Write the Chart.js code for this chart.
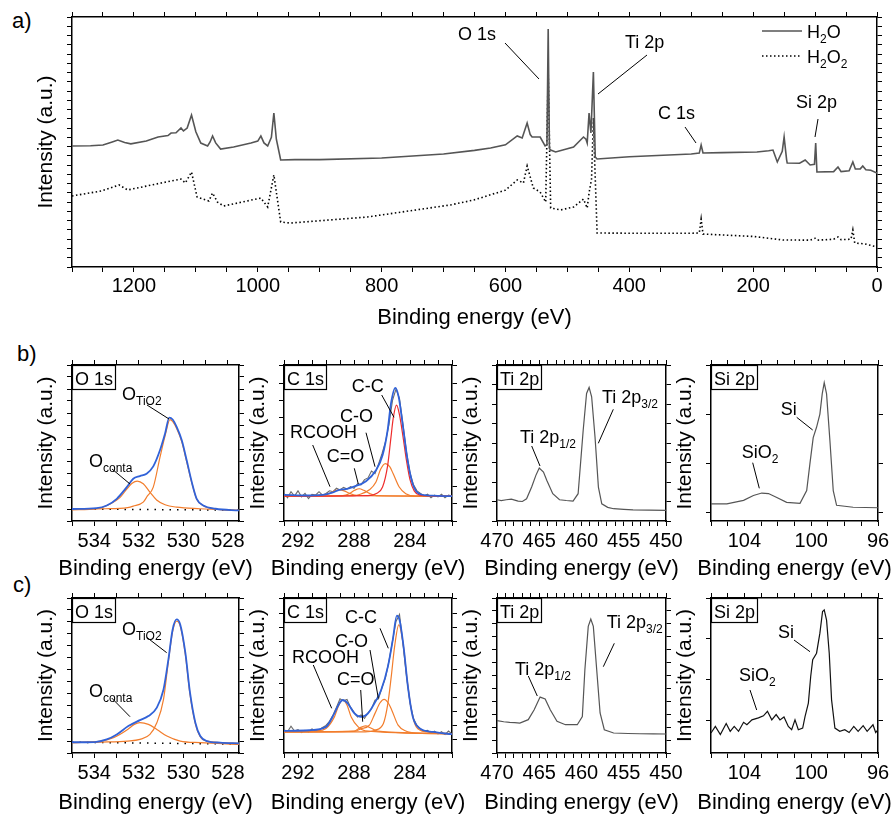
<!DOCTYPE html>
<html><head><meta charset="utf-8">
<script src="https://cdn.jsdelivr.net/npm/chart.js@4.4.1/dist/chart.umd.min.js"></script>
<style>
html,body{margin:0;padding:0;background:#fff;}
#wrap{position:relative;width:895px;height:819px;overflow:hidden;background:#fff;}
#wrap canvas{position:absolute;}
.lbl{position:absolute;font-family:"Liberation Sans",Arial,sans-serif;font-size:22px;color:#000;line-height:22px;}
</style></head><body><div id="wrap">
<div class="lbl" style="left:12px;top:10px">a)</div>
<div class="lbl" style="left:17px;top:343px">b)</div>
<div class="lbl" style="left:13px;top:574px">c)</div>
</div>
<script>
const FONT = '"Liberation Sans", Arial, Helvetica, sans-serif';

// ---------------- (a) survey spectra ----------------
const surveyE_H2O = [1300,1270,1250,1235,1226,1215,1205,1180,1161,1145,1140,1132,1124,1120,1114,1107,1100,1092,1081,1077,1073,1068,1060,1039,1011,1000,995,990,984,978,974,970,963,940,900,800,700,650,624,600,581,573,565,560,557,544,536,533,531,529,527,519,490,474,470,468,465,462,458,455,452,400,300,287,284,281,250,194,175,168,161,153,150,146,145,125,116,108,101,99,97,70,63,58,45,39,35,27,23,18,10,0];
const surveyI_H2O = [13.07,13.1,13.17,13.5,13.71,13.45,13.3,13.6,14.04,14.2,14.47,14.5,15.01,14.69,15.0,16.41,14.6,13.39,13.07,13.5,14.15,13.4,12.74,12.96,13.39,13.6,14.15,13.4,13.07,14.0,16.63,13.8,11.56,11.6,11.6,11.77,12.2,12.6,12.85,13.2,14.15,13.93,15.55,14.3,14.04,14.04,13.07,13.2,25.7,12.8,12.63,12.42,12.96,14.04,13.8,13.39,16.63,14.47,21.06,11.88,11.66,11.9,12.2,12.3,13.17,12.31,12.35,12.42,12.55,12.63,11.34,12.5,14.04,11.6,11.23,11.2,11.56,11.02,11.1,13.39,10.26,10.3,10.8,10.3,10.4,11.34,10.58,10.6,10.9,10.5,10.45,10.15];
const surveyE_H2O2 = [1300,1253,1224,1210,1156,1124,1117,1107,1098,1079,1073,1065,1055,995,984,974,963,947,823,689,651,600,581,571,565,555,544,535,531,527,511,490,474,468,465,461,458,456,452,400,300,287,284,281,200,152,108,100,96,70,63,58,42,39,36,20,0];
const surveyI_H2O2 = [7.67,8.21,8.86,8.32,9.07,9.5,9.07,10.26,7.56,7.13,7.99,7.0,6.59,7.45,6.48,9.94,4.86,4.75,5.4,6.7,7.24,8.3,9.4,9.07,10.91,8.53,8.1,7.02,21.06,6.37,6.16,6.48,7.34,6.37,7.99,9.5,16.09,11.56,3.67,3.65,3.65,3.67,5.18,3.56,3.3,2.92,2.9,3.1,2.9,3.0,3.24,2.95,3.0,4.0,2.59,2.5,2.16];
const surveyTickLabels = [1200,1000,800,600,400,200,0];

// ---------------- tick labels of the detail panels ----------------
const o1sTickLabels = [534,532,530,528];
const c1sTickLabels = [292,288,284];
const ti2pTickLabels = [470,465,460,455,450];
const si2pTickLabels = [104,100,96];

// ---------------- (b) O 1s ----------------
const o1sB_envE = [535.0,533.9,533.44,532.99,532.54,532.25,531.95,531.65,531.35,531.05,530.82,530.63,530.48,530.3,530.07,529.85,529.62,529.4,529.1,528.55,527.5];
const o1sB_env  = [0.0,0.07,0.29,0.85,1.82,2.52,2.74,2.94,3.55,4.89,6.29,7.62,7.46,6.84,5.73,4.06,2.24,0.85,0.29,0.02,-0.12];
const o1sB_tio2E = [535.0,533.5,532.5,532.25,531.8,531.62,531.35,531.05,530.82,530.6,530.48,530.3,530.07,529.85,529.62,529.4,529.1,528.55,527.5];
const o1sB_tio2  = [0.0,0.02,0.12,0.24,0.57,1.07,1.82,4.3,6.1,7.45,7.3,6.7,5.6,3.95,2.18,0.82,0.27,0.0,-0.12];
const o1sB_contaE = [535.0,533.89,533.3,532.85,532.5,532.3,532.07,531.8,531.5,531.2,530.82,530.3,529.25,527.5];
const o1sB_conta  = [-0.07,0.03,0.4,0.95,1.75,2.15,2.33,2.1,1.4,0.75,0.35,0.15,0.02,-0.12];
const o1sB_bgE = [535.0,527.5];
const o1sB_bg  = [0.0,-0.1];

// ---------------- (b) C 1s ----------------
const c1sRawE = [293,292.75,292.5,292.25,292,291.75,291.5,291.25,291,290.75,290.5,290.25,290,289.75,289.5,289.25,289,288.75,288.5,288.25,288,287.75,287.5,287.25,287,286.75,286.5,286.25,286,285.75,285.5,285.25,285,284.75,284.5,284.25,284,283.75,283.5,283.25,283,282.75,282.5,282.25,282,281.75,281.5,281.25,281];
const c1sB_raw = [0.6,0.35,0.7,0.45,0.75,0.4,0.6,0.3,0.55,0.5,0.7,0.5,0.6,0.75,0.7,0.9,0.8,0.95,0.85,1.0,0.9,1.15,1.1,1.4,1.5,1.9,1.75,2.3,2.9,3.6,4.6,6.0,6.65,6.1,4.6,3.0,1.8,1.1,0.75,0.6,0.45,0.55,0.35,0.5,0.4,0.55,0.35,0.5,0.45];
const c1sB_envE = [293,291.2,290.0,289.5,289.05,288.6,288.1,287.14,286.43,285.96,285.6,285.36,285.05,284.81,284.53,284.17,283.81,283.34,282.39,281];
const c1sB_env  = [0.52,0.48,0.54,0.66,0.81,0.85,0.97,1.31,1.94,2.81,4.26,5.81,6.72,6.2,4.65,2.52,1.16,0.58,0.47,0.44];
const c1sB_ccE = [293,287.0,286.4,285.96,285.6,285.36,285.2,284.96,284.75,284.5,284.25,284.0,283.7,283.3,282.5,281];
const c1sB_cc  = [0.44,0.47,0.6,0.97,2.2,3.85,4.95,5.72,5.15,3.9,2.5,1.4,0.75,0.5,0.45,0.44];
const c1sB_coE = [293,288.0,287.6,286.9,286.43,286.1,285.76,285.45,285.2,284.77,284.3,283.6,281];
const c1sB_co  = [0.45,0.47,0.54,0.81,1.26,2.0,2.33,2.15,1.74,0.97,0.58,0.44,0.44];
const c1sB_c2oE = [293,288.8,288.3,287.95,287.62,287.3,286.9,286.4,281];
const c1sB_c2o  = [0.45,0.47,0.6,0.78,0.87,0.78,0.6,0.47,0.44];
const c1sB_coohE = [293,290.3,289.7,289.35,289.05,288.7,288.3,287.8,281];
const c1sB_cooh  = [0.45,0.5,0.62,0.76,0.81,0.75,0.6,0.48,0.44];

// ---------------- (b) Ti 2p ----------------
const ti2pB_E = [470,469.5,468.9,468.3,467.5,467.0,466.5,465.9,465.4,465.0,464.5,464.1,463.4,462.6,461.8,461.0,460.4,459.8,459.4,459.1,458.8,458.4,458.0,457.6,456.9,456.2,455.0,453.9,452.0,450];
const ti2pB_I = [1.09,1.05,1.09,1.12,1.02,1.0,1.14,1.74,2.34,2.72,2.51,2.08,1.4,1.09,1.05,1.02,1.4,4.65,6.54,6.85,6.37,4.31,1.74,0.88,0.7,0.63,0.6,0.57,0.56,0.54];

// ---------------- (b) Si 2p ----------------
const si2pB_E = [106,105.05,104.05,103.46,102.96,102.56,102.06,101.47,100.67,100.27,100.08,99.88,99.68,99.48,99.34,99.22,99.08,98.88,98.68,98.48,97.49,96];
const si2pB_I = [0.17,0.17,0.24,0.34,0.39,0.38,0.3,0.2,0.18,0.44,0.98,1.52,1.73,2.0,2.41,2.64,2.41,1.46,0.44,0.14,0.1,0.09];

// ---------------- (c) O 1s ----------------
const o1sC_envE = [535.0,533.98,533.44,532.99,532.47,531.95,531.57,531.19,530.89,530.67,530.48,530.3,530.14,529.91,529.7,529.46,529.24,528.94,528.35,527.5];
const o1sC_env  = [-0.1,-0.08,0.14,0.56,1.26,1.76,2.1,2.8,4.33,6.85,9.36,10.2,9.78,7.41,4.06,1.54,0.42,0.0,-0.13,-0.19];
const o1sC_tio2E = [535.0,533.7,532.5,531.95,531.5,531.19,530.89,530.67,530.48,530.3,530.14,529.91,529.7,529.46,529.24,528.94,527.5];
const o1sC_tio2  = [-0.13,-0.08,0.0,0.14,0.56,1.54,3.5,6.71,9.2,10.05,9.65,7.27,3.92,1.46,0.36,0.0,-0.19];
const o1sC_contaE = [535.0,533.7,533.14,532.5,532.2,531.95,531.57,531.19,530.74,530.14,529.24,527.5];
const o1sC_conta  = [-0.13,0.0,0.28,0.98,1.4,1.54,1.4,0.98,0.42,0.0,-0.13,-0.27];
const o1sC_bgE = [535.0,527.5];
const o1sC_bg  = [-0.1,-0.25];

// ---------------- (c) C 1s ----------------
const c1sC_raw = [0.7,0.55,0.95,0.6,0.7,0.5,0.65,0.55,0.75,0.6,0.7,0.85,1.0,1.3,1.75,2.3,2.9,2.75,2.85,2.3,1.95,1.6,1.75,1.5,1.9,2.2,2.8,2.9,3.7,4.4,5.6,7.0,8.4,8.9,6.8,4.5,2.6,1.5,1.0,0.75,0.6,0.65,0.45,0.6,0.4,0.55,0.35,0.6,0.4];
const c1sC_envE = [293,291.2,290.0,289.4,289.05,288.8,288.45,287.97,287.49,287.0,286.54,286.06,285.58,285.23,284.94,284.75,284.46,284.15,283.8,283.3,282.37,281];
const c1sC_env  = [0.61,0.66,0.9,1.86,2.57,2.81,2.57,1.86,1.61,1.86,2.57,3.52,5.19,7.09,8.81,8.52,6.61,3.76,1.61,0.79,0.54,0.38];
const c1sC_ccE = [293,287.2,286.5,285.9,285.58,285.34,285.1,284.8,284.5,284.2,283.9,283.55,282.8,281];
const c1sC_cc  = [0.55,0.54,0.66,1.14,2.57,4.47,6.61,8.16,6.86,4.24,2.09,0.9,0.54,0.4];
const c1sC_coE = [293,288,287.5,286.9,286.5,286.15,285.85,285.55,285.3,284.85,284.3,283.5,281];
const c1sC_co  = [0.55,0.58,0.76,1.02,1.86,2.6,2.86,2.6,2.09,1.02,0.6,0.45,0.4];
const c1sC_coohE = [293,290.7,290.0,289.4,289.1,288.8,288.5,288.2,287.7,287.2,281];
const c1sC_cooh  = [0.55,0.62,0.79,1.61,2.4,2.81,2.45,1.61,0.9,0.62,0.42];
const c1sC_c2oE = [293,288.0,287.6,287.18,286.8,286.3,281];
const c1sC_c2o  = [0.55,0.6,0.82,0.97,0.82,0.6,0.42];

// ---------------- (c) Ti 2p ----------------
const ti2pC_E = [470,469.2,468.5,467.9,467.3,466.3,465.6,464.9,464.3,463.7,462.9,461.9,461.2,460.5,459.9,459.6,459.2,458.9,458.6,458.2,457.8,457.3,456.2,454.5,453.1,451.5,450];
const ti2pC_I = [2.5,2.42,2.37,2.35,2.32,2.58,3.35,4.33,4.18,3.35,2.45,2.19,2.2,2.19,2.83,6.45,9.8,10.37,9.8,6.45,3.1,1.8,1.55,1.51,1.49,1.48,1.47];

// ---------------- (c) Si 2p ----------------
const si2pC_E = [106,105.74,105.44,105.09,104.85,104.61,104.35,104.05,103.85,103.55,103.16,102.86,102.62,102.36,102.1,101.87,101.63,101.37,101.17,100.97,100.77,100.51,100.37,100.17,100.03,99.91,99.68,99.48,99.32,99.22,99.08,98.92,98.78,98.58,98.29,97.99,97.73,97.45,97.19,96.89,96.65,96.3,96.14,96];
const si2pC_I = [-0.3,-0.14,-0.34,-0.07,-0.26,-0.14,-0.26,-0.04,-0.1,0.02,0.07,0.12,0.23,0.02,0.15,0.02,0.09,-0.14,-0.22,0.02,-0.22,-0.18,0.1,0.43,1.08,1.49,1.65,2.14,2.67,2.71,2.46,1.65,0.51,-0.18,-0.26,-0.22,-0.29,-0.14,-0.26,-0.12,-0.26,-0.1,-0.29,-0.22];

// ================= drawing helpers =================
const BLUE = '#3162d8', ORANGE = '#f27d2c', RED = '#ee2c2c', GREY = '#6a6a6a', DARK = '#555555';
const seq = (a, b, s) => { const r = []; for (let v = a; v <= b + 1e-9; v += s) r.push(Math.round(v * 1000) / 1000); return r; };
const pts = (E, V) => E.map((e, i) => ({x: e, y: V[i]}));
function ds(E, V, color, width, extra) {
  return Object.assign({data: pts(E, V), borderColor: color, borderWidth: width, pointRadius: 0, fill: false, tension: 0}, extra || {});
}
const smooth = {cubicInterpolationMode: 'monotone'};

function annotPlugin(items, gapX) {
  return {
    id: 'annot',
    afterDraw(chart) {
      const ctx = chart.ctx, a = chart.chartArea;
      ctx.save();
      // x-axis title (drawn without width compression)
      ctx.font = '22px ' + FONT;
      ctx.fillStyle = '#000'; ctx.textAlign = 'center'; ctx.textBaseline = 'middle';
      ctx.fillText('Binding energy (eV)', (a.left + a.right) / 2, a.bottom + gapX);
      for (const it of items) {
        if (it.type === 'line') {
          ctx.beginPath();
          ctx.strokeStyle = it.color || '#000';
          ctx.lineWidth = it.width || 1;
          ctx.setLineDash(it.dash || []);
          ctx.moveTo(a.left + it.x1, a.top + it.y1);
          ctx.lineTo(a.left + it.x2, a.top + it.y2);
          ctx.stroke();
          ctx.setLineDash([]);
        } else if (it.type === 'text') {
          let x = a.left + it.x; const y = a.top + it.y;
          ctx.textBaseline = 'alphabetic'; ctx.textAlign = 'left'; ctx.fillStyle = '#000';
          for (const [s, kind] of it.parts) {
            const sub = kind === 'sub';
            ctx.font = (sub ? (it.sub || 12) : (it.size || 18)) + 'px ' + FONT;
            ctx.fillText(s, x, y + (sub ? (it.subDy || 5) : 0));
            x += ctx.measureText(s).width;
          }
        } else if (it.type === 'tag') {
          ctx.font = '18px ' + FONT;
          const tw = ctx.measureText(it.text).width;
          const bw = Math.round(tw + 5), bh = 24;
          ctx.fillStyle = '#fff';
          ctx.fillRect(a.left, a.top, bw, bh);
          ctx.strokeStyle = '#000'; ctx.lineWidth = 1.2;
          ctx.strokeRect(a.left + 0.5, a.top + 0.5, bw, bh);
          ctx.fillStyle = '#000'; ctx.textBaseline = 'alphabetic'; ctx.textAlign = 'left';
          ctx.fillText(it.text, a.left + 3, a.top + 19.5);
        }
      }
      ctx.restore();
    }
  };
}

const wrap = document.getElementById('wrap');
function makePanel(o) {
  const mL = 40, mR = 22, mT = 10, mB = 66;
  const b = o.box;
  const W = b.w + mL + mR, H = b.h + mT + mB;
  const cv = document.createElement('canvas');
  cv.width = W; cv.height = H;
  cv.style.left = (b.l - mL) + 'px'; cv.style.top = (b.t - mT) + 'px';
  cv.style.width = W + 'px'; cv.style.height = H + 'px';
  wrap.appendChild(cv);
  const grid = () => ({display: true, drawOnChartArea: false, drawTicks: true, tickLength: 5, tickColor: '#000', tickWidth: 1, color: '#000'});
  const border = () => ({display: true, color: '#000', width: 1.5});
  const xt = s => { s.ticks = o.xTicks.map(v => ({value: v})); };
  const yt = s => { s.ticks = o.yTicks.map(v => ({value: v})); };
  new Chart(cv.getContext('2d'), {
    type: 'line',
    data: {datasets: o.datasets},
    options: {
      responsive: false, animation: false, devicePixelRatio: 1,
      layout: {padding: 0},
      plugins: {legend: {display: false}, tooltip: {enabled: false}},
      elements: {point: {radius: 0}},
      scales: {
        x: {type: 'linear', position: 'bottom', min: o.xMin, max: o.xMax, reverse: true, grid: grid(), border: border(),
            afterBuildTicks: xt,
            ticks: {autoSkip: false, maxRotation: 0, minRotation: 0, padding: o.tickPad, color: '#000',
                    font: {family: FONT, size: 20, lineHeight: 1.2},
                    callback: v => o.xLabels.includes(v) ? String(v) : ''},
            title: {display: false},
            afterFit: s => { s.height = mB; }},
        x2: {type: 'linear', position: 'top', min: o.xMin, max: o.xMax, reverse: true, grid: grid(), border: border(),
             afterBuildTicks: xt, ticks: {display: false}, afterFit: s => { s.height = mT; }},
        y: {type: 'linear', position: 'left', min: o.yMin, max: o.yMax, grid: grid(), border: border(),
            afterBuildTicks: yt, ticks: {display: false},
            title: {display: true, text: 'Intensity (a.u.)', color: '#000', font: {family: FONT, size: 21, lineHeight: 1.2},
                    padding: {top: mL - 25.3 - 12.6, bottom: 0}},
            afterFit: s => { s.width = mL; }},
        y2: {type: 'linear', position: 'right', min: o.yMin, max: o.yMax, grid: grid(), border: border(),
             afterBuildTicks: yt, ticks: {display: false}, afterFit: s => { s.width = mR; }}
      }
    },
    plugins: [annotPlugin(o.annots, o.gapX)]
  });
}

const T = (x, y, parts, size) => ({type: 'text', x, y, parts, size: size || 18, sub: 12, subDy: 5});
const L = (x1, y1, x2, y2) => ({type: 'line', x1, y1, x2, y2, width: 1});

// ---- (a) survey ----
makePanel({
  box: {l: 72, t: 17, w: 805, h: 250}, xMin: 0, xMax: 1300, xTicks: seq(0, 1300, 50), xLabels: surveyTickLabels,
  yMin: 0, yMax: 27, yTicks: seq(0, 27, 1), tickPad: 2.1, gapX: 50.8,
  datasets: [
    ds(surveyE_H2O, surveyI_H2O, DARK, 1.6),
    ds(surveyE_H2O2, surveyI_H2O2, '#000', 1.6, {borderDash: [1.5, 2.5]})
  ],
  annots: [
    T(386, 22.6, [['O 1s', '']]), L(433, 26, 467, 62),
    T(553, 30.6, [['Ti 2p', '']]), L(575, 38, 526, 77),
    T(586, 101.9, [['C 1s', '']]), L(613, 110, 624, 126),
    T(724, 91, [['Si 2p', '']]), L(746, 102, 743, 120),
    {type: 'line', x1: 690, y1: 14, x2: 730, y2: 14, color: DARK, width: 1.6},
    T(735, 21, [['H', ''], ['2', 'sub'], ['O', '']]),
    {type: 'line', x1: 690, y1: 39, x2: 730, y2: 39, color: '#000', width: 1.6, dash: [1.5, 2.5]},
    T(735, 46, [['H', ''], ['2', 'sub'], ['O', ''], ['2', 'sub']])
  ]
});

// ---- (b) row ----
makePanel({
  box: {l: 72, t: 365, w: 167, h: 156}, xMin: 527.5, xMax: 535, xTicks: seq(528, 535, 1), xLabels: o1sTickLabels,
  yMin: -1, yMax: 12, yTicks: seq(-1, 12, 1), tickPad: 3.7, gapX: 47.5,
  datasets: [
    ds(o1sB_envE, o1sB_env, BLUE, 1.8, smooth),
    ds(o1sB_tio2E, o1sB_tio2, ORANGE, 1.2, smooth),
    ds(o1sB_contaE, o1sB_conta, ORANGE, 1.2, smooth),
    ds(o1sB_bgE, o1sB_bg, '#000', 1.5, {borderDash: [1.5, 6]})
  ],
  annots: [
    {type: 'tag', text: 'O 1s'},
    T(50, 35, [['O', ''], ['TiO2', 'sub']]), L(75, 40, 97, 54),
    T(17, 102, [['O', ''], ['conta', 'sub']]), L(40, 104, 58, 119)
  ]
});
makePanel({
  box: {l: 284, t: 365, w: 168, h: 156}, xMin: 281, xMax: 293, xTicks: seq(281, 293, 1), xLabels: c1sTickLabels,
  yMin: -1, yMax: 8.05, yTicks: seq(-1, 8, 1), tickPad: 3.7, gapX: 47.5,
  datasets: [
    ds(c1sB_envE, c1sB_env, BLUE, 1.8, smooth),
    ds(c1sB_ccE, c1sB_cc, RED, 1.2, smooth),
    ds(c1sB_coE, c1sB_co, ORANGE, 1.2, smooth),
    ds(c1sB_c2oE, c1sB_c2o, ORANGE, 1.2, smooth),
    ds(c1sB_coohE, c1sB_cooh, ORANGE, 1.2, smooth),
    ds(c1sRawE, c1sB_raw, GREY, 1.1)
  ],
  annots: [
    {type: 'tag', text: 'C 1s'},
    T(67.7, 26.7, [['C-C', '']]), L(97.7, 30, 110, 52.3),
    T(56, 56.7, [['C-O', '']]), L(82, 67.7, 91, 101.7),
    T(6, 73.3, [['RCOOH', '']]), L(28.7, 80, 46, 121.7),
    T(42.7, 96.7, [['C=O', '']]), L(70.3, 103.3, 74.3, 119)
  ]
});
makePanel({
  box: {l: 497, t: 365, w: 169, h: 156}, xMin: 450, xMax: 470, xTicks: seq(450, 470, 1), xLabels: ti2pTickLabels,
  yMin: 0, yMax: 8, yTicks: seq(0, 8, 1), tickPad: 3.7, gapX: 47.5,
  datasets: [ds(ti2pB_E, ti2pB_I, DARK, 1.2)],
  annots: [
    {type: 'tag', text: 'Ti 2p'},
    T(105, 38, [['Ti 2p', ''], ['3/2', 'sub']]), L(116.3, 44.3, 101.3, 78.3),
    T(23, 78, [['Ti 2p', ''], ['1/2', 'sub']]), L(34.7, 81, 43, 101)
  ]
});
makePanel({
  box: {l: 711, t: 365, w: 167, h: 156}, xMin: 96, xMax: 106, xTicks: seq(96, 106, 1), xLabels: si2pTickLabels,
  yMin: -0.18, yMax: 3, yTicks: seq(0, 3, 1), tickPad: 3.7, gapX: 47.5,
  datasets: [ds(si2pB_E, si2pB_I, DARK, 1.2)],
  annots: [
    {type: 'tag', text: 'Si 2p'},
    T(69.7, 50, [['Si', '']]), L(85.7, 52.3, 101.7, 65),
    T(30.7, 92.7, [['SiO', ''], ['2', 'sub']]), L(41.7, 97.7, 48.3, 123.3)
  ]
});

// ---- (c) row ----
makePanel({
  box: {l: 72, t: 598, w: 167, h: 155}, xMin: 527.5, xMax: 535, xTicks: seq(528, 535, 1), xLabels: o1sTickLabels,
  yMin: -1, yMax: 12, yTicks: seq(-1, 12, 1), tickPad: 3.7, gapX: 49.5,
  datasets: [
    ds(o1sC_envE, o1sC_env, BLUE, 1.8, smooth),
    ds(o1sC_tio2E, o1sC_tio2, ORANGE, 1.2, smooth),
    ds(o1sC_contaE, o1sC_conta, ORANGE, 1.2, smooth),
    ds(o1sC_bgE, o1sC_bg, '#000', 1.5, {borderDash: [1.5, 6]})
  ],
  annots: [
    {type: 'tag', text: 'O 1s'},
    T(50, 37, [['O', ''], ['TiO2', 'sub']]), L(74.7, 39.3, 94.7, 54.7),
    T(17, 99, [['O', ''], ['conta', 'sub']]), L(39.7, 100, 58, 118.7)
  ]
});
makePanel({
  box: {l: 284, t: 598, w: 168, h: 155}, xMin: 281, xMax: 293, xTicks: seq(281, 293, 1), xLabels: c1sTickLabels,
  yMin: -0.96, yMax: 10.07, yTicks: seq(0, 10, 1), tickPad: 3.7, gapX: 49.5,
  datasets: [
    ds(c1sC_envE, c1sC_env, BLUE, 1.8, smooth),
    ds(c1sC_ccE, c1sC_cc, ORANGE, 1.2, smooth),
    ds(c1sC_coE, c1sC_co, ORANGE, 1.2, smooth),
    ds(c1sC_coohE, c1sC_cooh, ORANGE, 1.2, smooth),
    ds(c1sC_c2oE, c1sC_c2o, ORANGE, 1.2, smooth),
    ds(c1sRawE, c1sC_raw, GREY, 1.1)
  ],
  annots: [
    {type: 'tag', text: 'C 1s'},
    T(61, 25, [['C-C', '']]), L(96, 30.3, 104.3, 50.3),
    T(51, 49, [['C-O', '']]), L(86, 52, 94.3, 100.3),
    T(8, 65, [['RCOOH', '']]), L(29.3, 67, 47.7, 110.3),
    T(53, 87, [['C=O', '']]), L(76.7, 92, 78.7, 123.7)
  ]
});
makePanel({
  box: {l: 497, t: 598, w: 169, h: 155}, xMin: 450, xMax: 470, xTicks: seq(450, 470, 1), xLabels: ti2pTickLabels,
  yMin: 0, yMax: 12, yTicks: seq(0, 12, 1), tickPad: 3.7, gapX: 49.5,
  datasets: [ds(ti2pC_E, ti2pC_I, DARK, 1.2)],
  annots: [
    {type: 'tag', text: 'Ti 2p'},
    T(109.7, 30, [['Ti 2p', ''], ['3/2', 'sub']]), L(117.3, 45.3, 106.3, 68.7),
    T(18, 77, [['Ti 2p', ''], ['1/2', 'sub']]), L(31.3, 78, 40.3, 98)
  ]
});
makePanel({
  box: {l: 711, t: 598, w: 167, h: 155}, xMin: 96, xMax: 106, xTicks: seq(96, 106, 1), xLabels: si2pTickLabels,
  yMin: -0.79, yMax: 3, yTicks: seq(0, 3, 1), tickPad: 3.7, gapX: 49.5,
  datasets: [ds(si2pC_E, si2pC_I, '#111', 1.2)],
  annots: [
    {type: 'tag', text: 'Si 2p'},
    T(67, 40, [['Si', '']]), L(83, 42, 99, 53.7),
    T(28, 83, [['SiO', ''], ['2', 'sub']]), L(39, 92, 45.7, 112)
  ]
});
</script></body></html>
